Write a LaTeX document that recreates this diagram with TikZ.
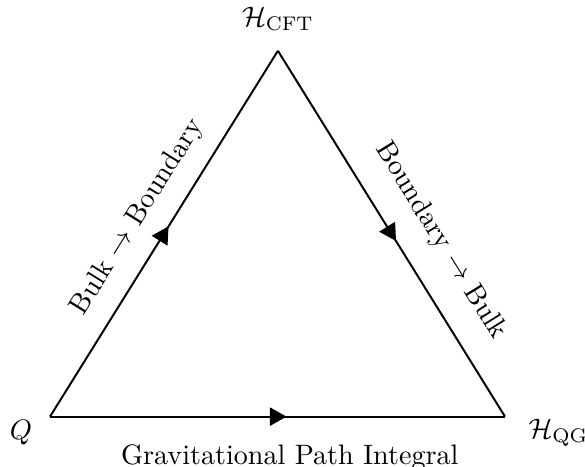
\documentclass[tikz,border=0pt]{standalone}
\usetikzlibrary{arrows.meta, positioning, decorations.markings}

\begin{document}
\begin{tikzpicture}[
    edge/.style={line width=0.7pt, postaction={decorate},
      decoration={markings, mark=at position 0.52 with {\arrow{Triangle[length=6pt,width=6.5pt]}}}},
    lbl/.style={sloped}
  ]
  \useasboundingbox (-0.625,-0.625) rectangle (6.69,5.21);

  \coordinate (Q) at (0,0);
  \coordinate (QG) at (5.69,0);
  \coordinate (CFT) at (2.85,4.575);

  \node[left=0.1cm of Q, yshift=-0.2cm] (qlab) {$Q$};
  \node[right=0.17cm of QG, yshift=-0.2cm] (qglab) {$\mathcal{H}_{\mathrm{QG}}$};
  \node[above=0.13cm of CFT] (cftlab) {$\mathcal{H}_{\mathrm{CFT}}$};

  \draw[edge] (Q) -- node[below=0.22cm, pos=0.527] (gpi) {Gravitational Path Integral} (QG);
  \draw[edge] (Q) -- node[lbl, above=0.1cm] (bulkbdy) {Bulk $\to$ Boundary} (CFT);
  \draw[edge] (CFT) -- node[lbl, above=0.19cm, pos=0.575] (bdybulk) {Boundary $\to$ Bulk} (QG);
\end{tikzpicture}
\end{document}
